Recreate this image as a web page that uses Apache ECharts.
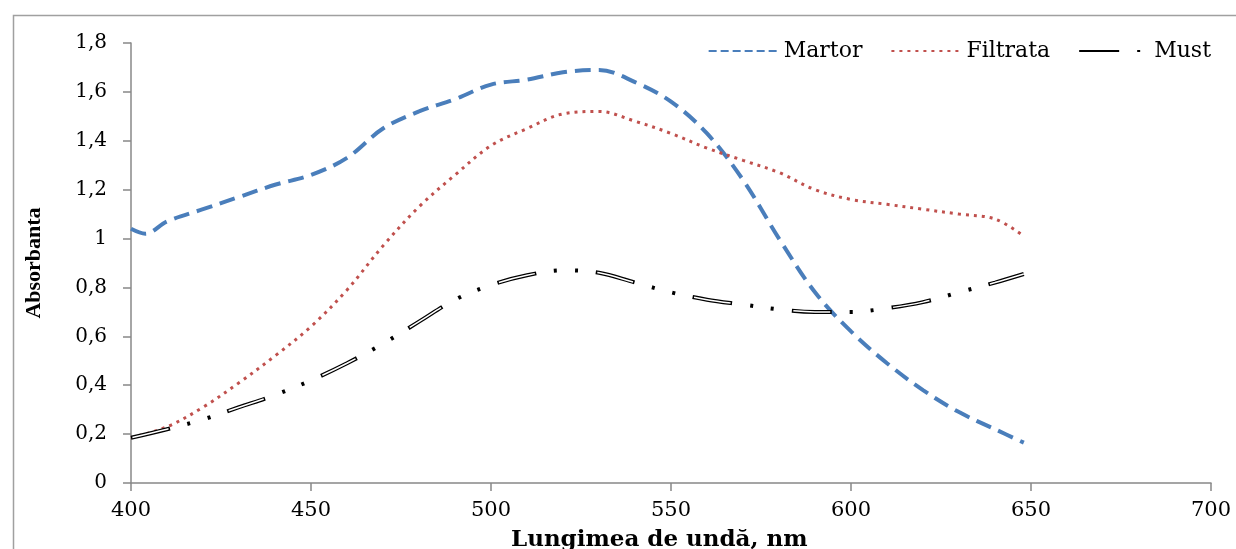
<!DOCTYPE html>
<html>
<head>
<meta charset="utf-8">
<script src="https://cdn.jsdelivr.net/npm/echarts@6/dist/echarts.min.js"></script>
<style>
  html, body { margin: 0; padding: 0; background: #fff; }
  #chart { width: 1236px; height: 549px; }
</style>
</head>
<body>
<div id="chart"></div>
<script>
// lungimi de unda (nm) si absorbante
var waveMartor = [400, 404, 410, 420, 430, 440, 450, 460, 470, 480, 490, 500, 510, 520, 530, 540, 550, 560, 570, 580, 590, 600, 610, 620, 630, 640, 648];
var martor = [1.04, 1.02, 1.07, 1.12, 1.17, 1.22, 1.26, 1.33, 1.45, 1.52, 1.57, 1.63, 1.65, 1.68, 1.69, 1.64, 1.56, 1.43, 1.24, 1.00, 0.78, 0.62, 0.49, 0.38, 0.29, 0.22, 0.165];

var waveFiltrata = [400, 410, 420, 430, 440, 450, 460, 470, 480, 490, 500, 510, 520, 530, 540, 550, 560, 570, 580, 590, 600, 610, 620, 630, 640, 648];
var filtrata = [0.185, 0.23, 0.31, 0.41, 0.52, 0.64, 0.79, 0.97, 1.13, 1.26, 1.38, 1.45, 1.51, 1.52, 1.48, 1.43, 1.37, 1.32, 1.27, 1.20, 1.16, 1.14, 1.12, 1.10, 1.08, 1.01];

var waveMust = [400, 410, 420, 430, 440, 450, 460, 470, 480, 490, 500, 510, 520, 530, 540, 550, 560, 570, 580, 590, 600, 610, 620, 630, 640, 648];
var must = [0.185, 0.22, 0.26, 0.31, 0.36, 0.42, 0.49, 0.57, 0.66, 0.75, 0.81, 0.85, 0.87, 0.86, 0.82, 0.78, 0.75, 0.73, 0.71, 0.70, 0.70, 0.715, 0.74, 0.78, 0.82, 0.855];

var xTicks = { min: 400, max: 700, step: 50 };
var yTicks = { min: 0, max: 1.8, step: 0.2 };

function pairs(xs, ys) {
    return xs.map(function (x, i) { return [x, ys[i]]; });
}

var serifWide = '"DejaVu Serif", "Liberation Serif", serif';
var serifNarrow = '"Liberation Serif", "DejaVu Serif", serif';

var chart = echarts.init(document.getElementById('chart'));
var option = {
    backgroundColor: '#fff',
    animation: false,
    graphic: [{
        type: 'rect',
        left: 11, top: 13,
        shape: { width: 1400, height: 700 },
        style: { fill: 'none', stroke: '#a0a0a0', lineWidth: 1.5 },
        silent: true
    }, {
        // titlul axei X, pus separat ca sa nu strice marginile grilei
        type: 'text',
        left: 511, top: 529,
        style: { text: 'Lungimea de undă, nm', font: 'bold 23px ' + serifWide, fill: '#000' },
        silent: true
    }],
    legend: {
        data: ['Martor', 'Filtrata', 'Must'],
        top: 35,
        right: 20,
        itemWidth: 70,
        itemHeight: 14,
        itemGap: 28,
        itemStyle: { opacity: 0 },
        textStyle: { fontFamily: serifWide, fontSize: 22, color: '#000' }
    },
    grid: { left: 131, right: 25, top: 43, bottom: 66 },
    xAxis: {
        type: 'value',
        min: xTicks.min, max: xTicks.max, interval: xTicks.step,
        axisLine: { lineStyle: { color: '#888', width: 1.5 } },
        axisTick: { length: 8, lineStyle: { color: '#888', width: 1.5 } },
        axisLabel: { fontFamily: serifWide, fontSize: 21, color: '#000', margin: 17 },
        splitLine: { show: false }
    },
    yAxis: {
        type: 'value',
        min: yTicks.min, max: yTicks.max, interval: yTicks.step,
        name: 'Absorbanta',
        nameLocation: 'middle',
        nameGap: 86,
        nameTextStyle: { fontFamily: serifNarrow, fontSize: 22, fontWeight: 'bold', color: '#000' },
        axisLine: { show: true, lineStyle: { color: '#888', width: 1.5 } },
        axisTick: { show: true, length: 8, lineStyle: { color: '#888', width: 1.5 } },
        axisLabel: {
            fontFamily: serifWide, fontSize: 20, color: '#000', margin: 24,
            formatter: function (v) { return String(+v.toFixed(1)).replace('.', ','); }
        },
        splitLine: { show: false }
    },
    series: [
        {
            name: 'Martor',
            type: 'line',
            smooth: 0.35,
            showSymbol: false,
            symbol: 'none',
            color: '#4a7ebb',
            lineStyle: { color: '#4a7ebb', width: 4, type: 'dashed', cap: 'butt', dashOffset: 0 },
            data: pairs(waveMartor, martor)
        },
        {
            name: 'Filtrata',
            type: 'line',
            smooth: 0.35,
            showSymbol: false,
            symbol: 'none',
            color: '#c0504d',
            lineStyle: { color: '#c0504d', width: 3, type: [3, 5] },
            data: pairs(waveFiltrata, filtrata)
        },
        {
            name: 'Must',
            type: 'line',
            smooth: 0.35,
            showSymbol: false,
            symbol: 'none',
            color: '#000',
            lineStyle: { color: '#000', width: 4, type: [40, 18, 3, 18, 3, 18] },
            data: pairs(waveMust, must),
            z: 3
        },
        {
            // interiorul alb al liniei duble
            name: 'Must_inner',
            type: 'line',
            smooth: 0.35,
            showSymbol: false,
            symbol: 'none',
            color: '#fff',
            lineStyle: { color: '#fff', width: 1.5, type: [37, 63], dashOffset: -1.5 },
            data: pairs(waveMust, must),
            z: 4
        }
    ]
};
chart.setOption(option);
</script>
</body>
</html>
